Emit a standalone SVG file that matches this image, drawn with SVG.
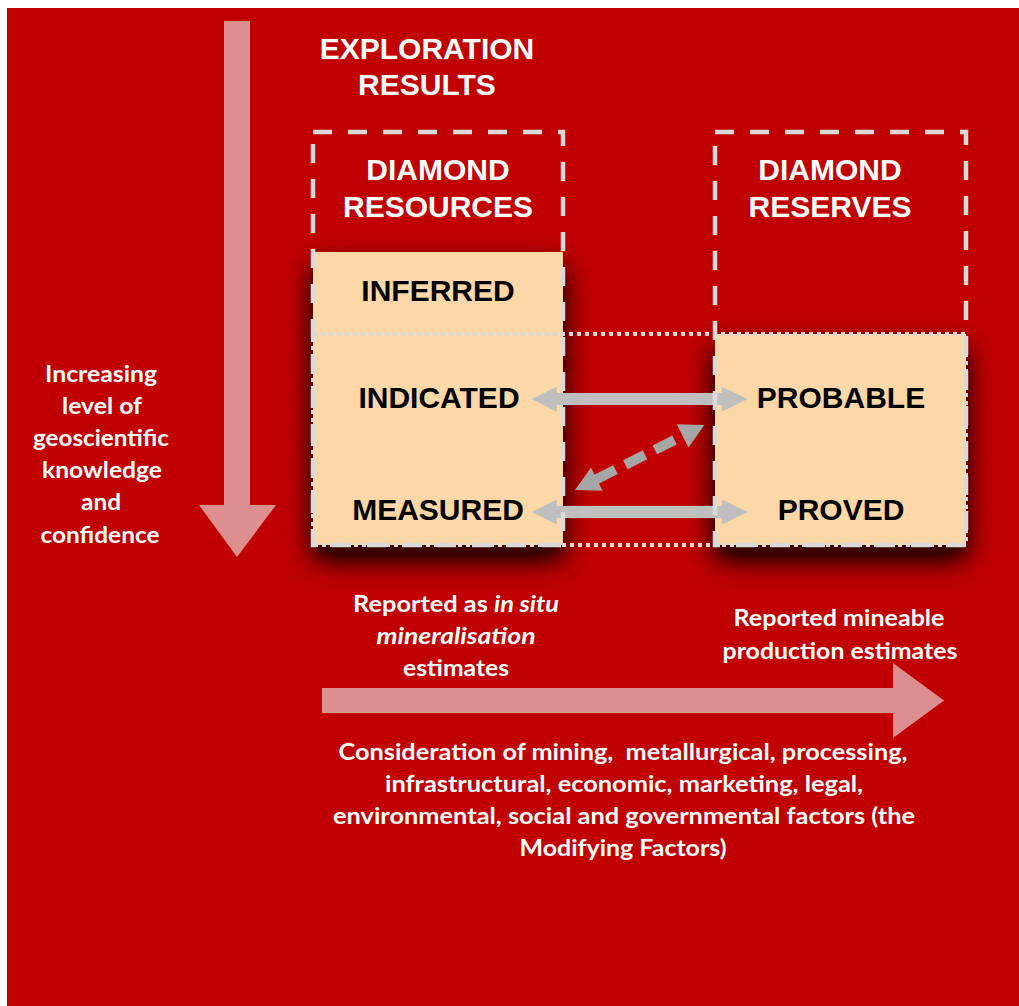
<svg xmlns="http://www.w3.org/2000/svg" width="1019" height="1006" viewBox="0 0 1019 1006">
<style>
.hd{font-family:"Liberation Sans",Arial,sans-serif;font-weight:bold;font-size:30px;text-anchor:middle}
.w{fill:#FFFFFF}
.k{fill:#000000}
.cb{font-family:Lato,"Open Sans",sans-serif;font-weight:bold;font-size:22px;fill:#FFFFFF;text-anchor:middle}
.dash{fill:none;stroke:#D9D9D9;stroke-width:4.5;stroke-dasharray:19 16}
.dot{fill:none;stroke:#D9D9D9;stroke-width:4;stroke-dasharray:4 4}
.tan{fill:#FCD8A8}
.bigarrow{fill:#DD8F8F}
.garrow{fill:#BFBFBF}
.darrow{fill:#A6A6A6}
</style>
<defs>
<filter id="shadow" x="-40%" y="-40%" width="180%" height="180%">
<feGaussianBlur in="SourceAlpha" stdDeviation="14" result="b"/>
<feOffset in="b" dx="0" dy="14" result="o"/>
<feComponentTransfer in="o" result="o2"><feFuncA type="linear" slope="1.6"/></feComponentTransfer>
<feFlood flood-color="#3a0000"/>
<feComposite in2="o2" operator="in" result="s"/>
<feMerge><feMergeNode in="s"/><feMergeNode in="SourceGraphic"/></feMerge>
</filter>
</defs>
<rect x="0" y="0" width="1019" height="1006" fill="#FFFFFF"/>
<rect x="7" y="8" width="1012" height="998" fill="#C00000"/>

<g id="confidence-arrow">
<polygon class="bigarrow" points="224,21 250,21 250,505 276,505 237,557 199,505 224,505"/>
<text class="cb"><tspan x="101" y="382" textLength="112" lengthAdjust="spacingAndGlyphs">Increasing</tspan><tspan x="102" y="414" textLength="80" lengthAdjust="spacingAndGlyphs">level of</tspan><tspan x="101" y="446" textLength="136" lengthAdjust="spacingAndGlyphs">geoscientific</tspan><tspan x="102" y="478" textLength="120" lengthAdjust="spacingAndGlyphs">knowledge</tspan><tspan x="101" y="510" textLength="40" lengthAdjust="spacingAndGlyphs">and</tspan><tspan x="100" y="543" textLength="119" lengthAdjust="spacingAndGlyphs">confidence</tspan></text>
</g>

<g id="modifying-arrow">
<polygon class="bigarrow" points="322,688 893,688 893,663 944,700.5 893,738 893,713 322,713"/>
</g>

<g id="exploration-results">
<text class="hd w" x="427" y="59">EXPLORATION</text>
<text class="hd w" x="427" y="95">RESULTS</text>
</g>

<g id="resources-box">
<rect class="tan" x="313" y="252" width="250" height="293" filter="url(#shadow)"/>
</g>
<g id="reserves-box">
<rect class="tan" x="715" y="334" width="251" height="211" filter="url(#shadow)"/>
</g>

<g id="connectors">
<polygon class="garrow" points="531.7,399 556.7,386.7 556.7,393 721.7,393 721.7,386.7 747.7,399 721.7,411.7 721.7,405 556.7,405 556.7,411.7"/>
<polygon class="garrow" points="531.7,512 556.7,499.5 556.7,506 721.7,506 721.7,499.5 747.7,512 721.7,524.5 721.7,518 556.7,518 556.7,524.5"/>
<g transform="translate(639.7,457.5) rotate(-26.7)">
<polygon class="darrow" points="-72.4,0 -48,-13 -48,13"/>
<polygon class="darrow" points="72.4,0 48,-13 48,13"/>
<line x1="-49" y1="0" x2="49" y2="0" stroke="#A6A6A6" stroke-width="10" stroke-dasharray="22 11"/>
</g>
</g>

<g id="diamond-resources">
<rect class="dash" x="313" y="132" width="250" height="413"/>
<text class="hd w" x="438" y="180">DIAMOND</text>
<text class="hd w" x="438" y="217">RESOURCES</text>
</g>
<g id="diamond-reserves">
<rect class="dash" x="715" y="132" width="251" height="413"/>
<text class="hd w" x="830" y="180">DIAMOND</text>
<text class="hd w" x="830" y="217">RESERVES</text>
</g>
<rect class="dot" x="313" y="334" width="653" height="211"/>

<g id="labels">
<text class="hd k" x="438" y="301">INFERRED</text>
<text class="hd k" x="439" y="408">INDICATED</text>
<text class="hd k" x="438" y="520">MEASURED</text>
<text class="hd k" x="841" y="408">PROBABLE</text>
<text class="hd k" x="841" y="520">PROVED</text>
</g>

<g id="in-situ-note">
<text class="cb" x="456" y="612" textLength="206" lengthAdjust="spacingAndGlyphs">Reported as <tspan font-style="italic">in situ</tspan></text>
<text class="cb" x="456" y="644" font-style="italic" textLength="159" lengthAdjust="spacingAndGlyphs">mineralisation</text>
<text class="cb" x="456" y="676" textLength="106" lengthAdjust="spacingAndGlyphs">estimates</text>
</g>
<g id="mineable-note">
<text class="cb" x="839" y="626" textLength="211" lengthAdjust="spacingAndGlyphs">Reported mineable</text>
<text class="cb" x="840" y="659" textLength="235" lengthAdjust="spacingAndGlyphs">production estimates</text>
</g>
<g id="modifying-factors">
<text class="cb" x="623" y="760" textLength="569" lengthAdjust="spacingAndGlyphs">Consideration of mining,&#160; metallurgical, processing,</text>
<text class="cb" x="624" y="792" textLength="478" lengthAdjust="spacingAndGlyphs">infrastructural, economic, marketing, legal,</text>
<text class="cb" x="624" y="824" textLength="582" lengthAdjust="spacingAndGlyphs">environmental, social and governmental factors (the</text>
<text class="cb" x="623" y="856" textLength="207" lengthAdjust="spacingAndGlyphs">Modifying Factors)</text>
</g>
</svg>
